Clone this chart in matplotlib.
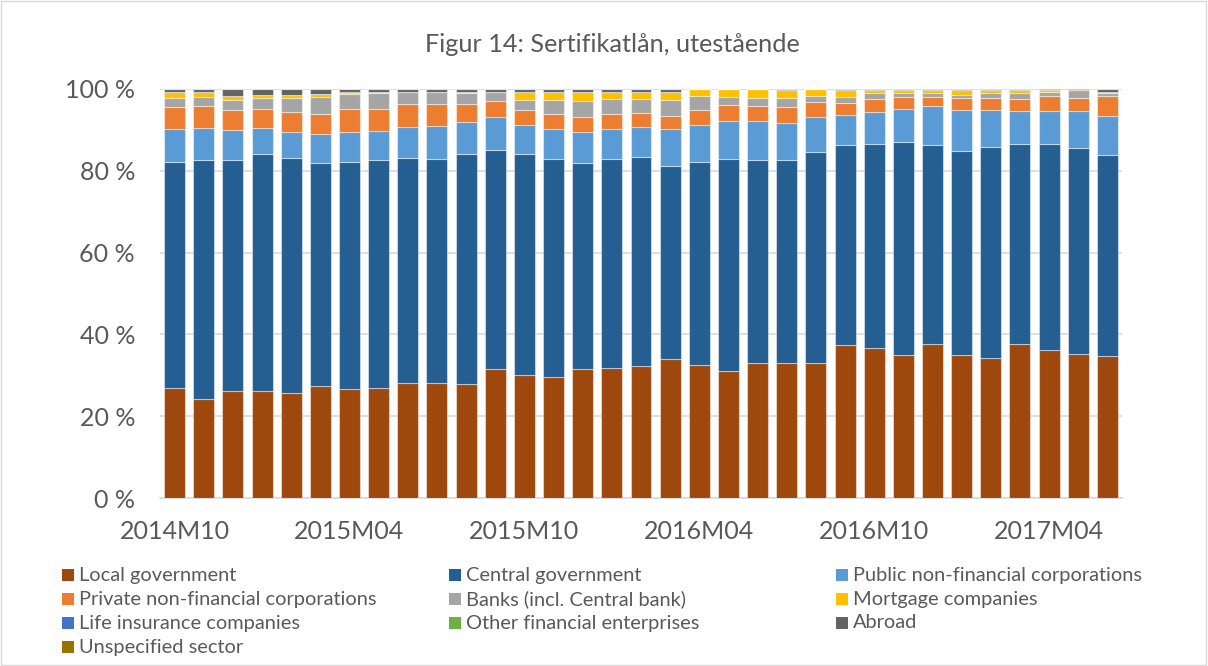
import matplotlib
matplotlib.use("Agg")
import matplotlib.pyplot as plt
from matplotlib.patches import Rectangle
import numpy as np

months = ["2014M10", "2014M11", "2014M12",
          "2015M01", "2015M02", "2015M03", "2015M04", "2015M05", "2015M06",
          "2015M07", "2015M08", "2015M09", "2015M10", "2015M11", "2015M12",
          "2016M01", "2016M02", "2016M03", "2016M04", "2016M05", "2016M06",
          "2016M07", "2016M08", "2016M09", "2016M10", "2016M11", "2016M12",
          "2017M01", "2017M02", "2017M03", "2017M04", "2017M05", "2017M06"]
tick_labels = ["2014M10", "2015M04", "2015M10", "2016M04", "2016M10", "2017M04"]

local_gov = [27.0, 24.3, 26.2, 26.2, 25.7, 27.5, 26.6, 27.0, 28.0, 28.1, 27.8,
             31.5, 30.0, 29.5, 31.5, 31.7, 32.2, 34.0, 32.4, 31.0, 32.9, 32.9,
             33.0, 37.3, 36.6, 34.9, 37.6, 35.0, 34.2, 37.6, 36.2, 35.2, 34.7]
central_gov = [55.1, 58.3, 56.4, 57.8, 57.4, 54.4, 55.5, 55.6, 55.2, 54.9, 56.2,
               53.5, 54.0, 53.5, 50.3, 51.1, 51.2, 47.2, 49.7, 52.0, 49.8, 49.7,
               51.5, 48.9, 49.9, 52.2, 48.6, 49.8, 51.6, 48.9, 50.3, 50.3, 49.1]
public_nonfin = [8.0, 7.8, 7.3, 6.5, 6.5, 7.0, 7.4, 7.2, 7.6, 8.0, 7.9,
                 8.1, 7.1, 7.1, 7.7, 7.3, 7.2, 8.9, 9.0, 9.2, 9.4, 9.0,
                 8.6, 7.5, 7.9, 8.0, 9.6, 10.1, 9.0, 8.1, 8.2, 9.2, 9.6]
private_nonfin = [5.6, 5.4, 4.9, 4.7, 4.8, 5.1, 5.5, 5.4, 5.5, 5.3, 4.5,
                  4.0, 3.7, 3.7, 3.6, 3.7, 3.5, 3.4, 3.8, 4.0, 3.7, 4.1,
                  3.7, 2.8, 3.2, 2.9, 2.3, 3.0, 3.1, 3.0, 3.5, 3.0, 4.8]
banks = [2.0, 2.2, 2.6, 2.7, 3.3, 4.1, 3.8, 3.7, 3.05, 2.9, 2.7,
         2.25, 2.4, 3.4, 3.9, 3.7, 3.5, 3.8, 3.5, 1.8, 2.0, 2.0,
         1.5, 1.6, 1.3, 1.1, 0.8, 0.7, 1.0, 1.3, 1.15, 2.1, 0.9]
mortgage = [1.65, 1.35, 1.0, 0.6, 0.9, 0.6, 0.2, 0.45, 0.0, 0.1, 0.2,
            0.0, 2.15, 2.15, 2.2, 1.85, 1.75, 2.05, 1.6, 2.0, 2.2, 2.1,
            1.7, 1.7, 0.95, 0.75, 0.85, 1.15, 0.85, 0.85, 0.35, 0.0, 0.25]
life_insurance = [0.0] * 33
other_financial = [0.0, 0.0, 0.0, 0.0, 0.0, 0.0, 0.2, 0.0, 0.0, 0.0, 0.0,
                   0.0, 0.0, 0.0, 0.0, 0.0, 0.0, 0.0, 0.0, 0.0, 0.0, 0.0,
                   0.0, 0.0, 0.0, 0.0, 0.0, 0.0, 0.0, 0.0, 0.0, 0.0, 0.0]
abroad = [0.65, 0.65, 1.6, 1.5, 1.4, 1.3, 0.8, 0.65, 0.65, 0.7, 0.7,
          0.65, 0.65, 0.65, 0.8, 0.65, 0.65, 0.65, 0.0, 0.0, 0.0, 0.2,
          0.0, 0.2, 0.15, 0.15, 0.25, 0.25, 0.25, 0.25, 0.0, 0.0, 0.65]
unspecified = [0.0, 0.0, 0.0, 0.0, 0.0, 0.0, 0.0, 0.0, 0.0, 0.0, 0.0,
               0.0, 0.0, 0.0, 0.0, 0.0, 0.0, 0.0, 0.0, 0.0, 0.0, 0.0,
               0.0, 0.0, 0.0, 0.0, 0.0, 0.0, 0.0, 0.0, 0.3, 0.2, 0.0]

series_names = ["Local government", "Central government", "Public non-financial corporations",
                "Private non-financial corporations", "Banks (incl. Central bank)", "Mortgage companies",
                "Life insurance companies", "Other financial enterprises", "Abroad",
                "Unspecified sector"]
series_values = [local_gov, central_gov, public_nonfin, private_nonfin, banks, mortgage,
                 life_insurance, other_financial, abroad, unspecified]
colors = ["#9E480E", "#255E91", "#5B9BD5", "#ED7D31", "#A5A5A5", "#FFC000",
          "#4472C4", "#70AD47", "#636363", "#997300"]

plt.rcParams['font.family'] = ['Lato', 'DejaVu Sans']
text_color = "#595959"

fig = plt.figure(figsize=(12.08, 6.66), dpi=100)
ax = fig.add_axes([160 / 1208, 1 - 498 / 666, 962 / 1208, (498 - 89) / 666])

x = np.arange(len(months))
bottom = np.zeros(len(months))
for name, vals, col in zip(series_names, series_values, colors):
    v = np.array(vals)
    ax.bar(x, v, width=0.72, bottom=bottom, color=col, edgecolor=(1, 1, 1, 0.45),
           linewidth=0.8, label=name, zorder=3)
    bottom += v

ax.set_xlim(-0.5, len(months) - 0.5)
ax.set_ylim(0, 100)
ax.set_yticks([0, 20, 40, 60, 80, 100])
ax.set_yticklabels(["0 %", "20 %", "40 %", "60 %", "80 %", "100 %"])
ax.set_xticks([months.index(t) for t in tick_labels])
ax.set_xticklabels(tick_labels)
ax.tick_params(axis='both', length=0, labelsize=18, colors=text_color)
ax.tick_params(axis='x', pad=16)
ax.tick_params(axis='y', pad=18)
ax.yaxis.grid(True, color="#D9D9D9", linewidth=1.2, zorder=0)
for s in ["top", "right", "left"]:
    ax.spines[s].set_visible(False)
ax.spines["bottom"].set_color("#D9D9D9")
ax.spines["bottom"].set_linewidth(1.2)

fig.text(612 / 1208, 1 - 45 / 666, "Figur 14: Sertifikatlån, utestående",
         ha="center", va="center", fontsize=18.2, color=text_color)

# legend (row-wise, 3 columns)
col_x = [62, 449, 836]
row_y = [575, 599, 623, 647]
for i, (name, col) in enumerate(zip(series_names, colors)):
    r, c = divmod(i, 3)
    px, py = col_x[c], row_y[r]
    fig.patches.append(Rectangle((px / 1208, 1 - (py + 6) / 666), 12 / 1208, 12 / 666,
                                 transform=fig.transFigure, facecolor=col, edgecolor='none'))
    fig.text((px + 17) / 1208, 1 - py / 666, name, ha="left", va="center",
             fontsize=14.4, color=text_color)

# outer frame
fig.patches.append(Rectangle((0.001, 0.002), 0.997, 0.996, transform=fig.transFigure,
                             facecolor='none', edgecolor="#D9D9D9", linewidth=1))

fig.savefig("out.png", dpi=100)
